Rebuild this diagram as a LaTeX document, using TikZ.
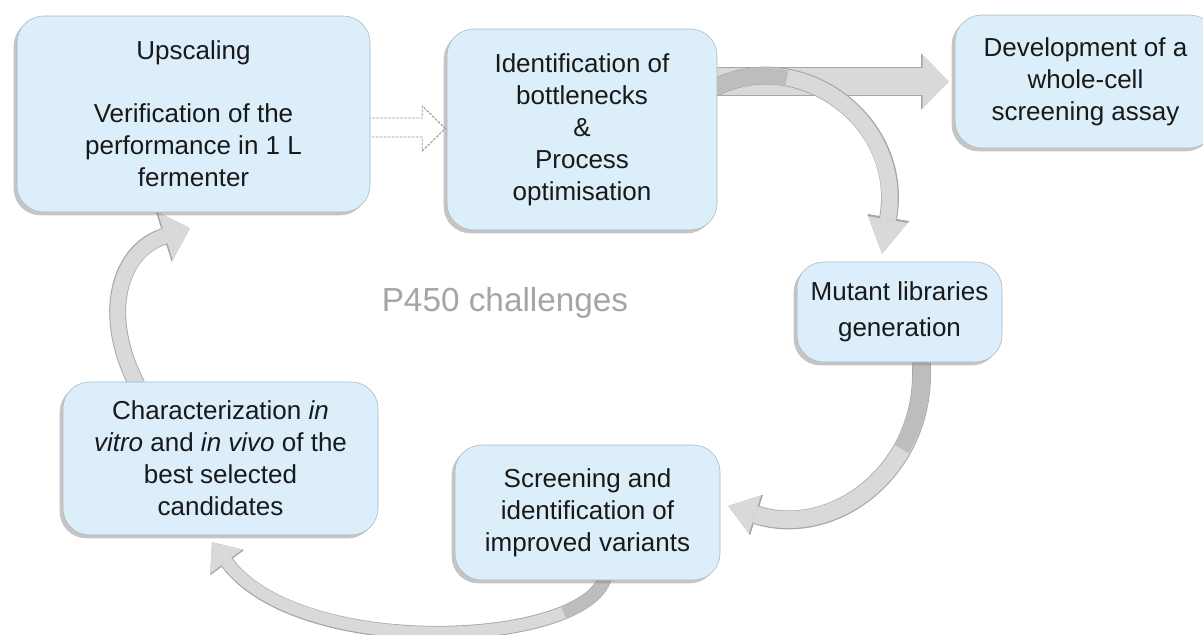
\documentclass[tikz,border=0pt]{standalone}
\usepackage{fontspec}
\setmainfont{Liberation Sans}
\usetikzlibrary{calc, arrows.meta, shadows}

\definecolor{boxfill}{HTML}{DBEEF9}
\definecolor{boxedge}{HTML}{A7B7C4}
\definecolor{arrowfill}{HTML}{D9D9D9}
\definecolor{arrowedge}{HTML}{A6A6A6}
\definecolor{arrowback}{HTML}{BDBDBD}
\definecolor{titlegray}{HTML}{A5A5A5}

\pgfdeclarelayer{background}
\pgfsetlayers{background,main}

\tikzset{
  stage/.style={draw=boxedge, fill=boxfill, rounded corners=20pt, align=center, inner sep=0pt,
    drop shadow={shadow xshift=-2.5pt, shadow yshift=-2.5pt, fill=black!45, opacity=0.5}},
  bigarrow/.style n args={3}{draw=arrowfill, line width=#1,
    -{Triangle[width=#2, length=#3, line width=0pt]},
    preaction={draw=arrowedge, line width=#1+1.4pt,
      -{Triangle[width=#2, length=#3, line width=0pt, scale=1.06]}}},
  % darker underside where the band turns over
  twist/.style 2 args={postaction={draw=arrowback, line width=#1, -, dash pattern=on #2 off 1000pt}},
  hollowarrow/.style={draw=gray!85, dash pattern=on 2pt off 1pt, fill=white, line width=0.7pt}
}

\begin{document}
\begin{tikzpicture}[x=0.75pt, y=0.75pt, font=\fontsize{19.5}{24}\selectfont, text=black!90]
  \useasboundingbox (0,0) rectangle (1203,-635);

  % Steps of the cycle
  \node[stage, minimum width=264.75pt, minimum height=147pt] (up) at (193.5,-114)
    {Upscaling\\[23pt]Verification of the\\performance in 1 L\\fermenter};
  \node[stage, minimum width=202.5pt, minimum height=150.75pt] (bot) at (582,-129.5)
    {Identification of\\bottlenecks\\\&\\Process\\optimisation};
  \node[stage, minimum width=195.75pt, minimum height=99.75pt] (dev) at (1085.5,-81.5)
    {Development of a\\whole-cell\\screening assay};
  \node[stage, minimum width=153.75pt, minimum height=75pt] (mut) at (899.5,-312)
    {Mutant libraries\\[3pt]generation};
  \node[stage, minimum width=198.75pt, minimum height=101.25pt] (scr) at (587.5,-512.5)
    {Screening and\\identification of\\improved variants};
  \node[stage, minimum width=236.25pt, minimum height=114.75pt] (char) at (220.5,-458.5)
    {Characterization \textit{in}\\\textit{vitro} and \textit{in vivo} of the\\best selected\\candidates};

  \node[font=\fontsize{25}{30}\selectfont, text=titlegray] (title) at (505,-303) {P450 challenges};

  \begin{pgfonlayer}{background}
    % Straight arrows
    \draw[hollowarrow] ($(up.east)+(-2,-4)$) -- ++(54,0) -- ++(0,12) -- ++(23,-22.5)
      -- ++(-23,-22.5) -- ++(0,14) -- ++(-54,0) -- cycle;
    \draw[bigarrow={20.25pt}{39.75pt}{19.5pt}] ($(bot.east)+(-3,48)$) -- ($(dev.west)+(-6,0)$);

    % Curved arrows round the loop
    \draw[bigarrow={12pt}{30pt}{26pt}, twist={12pt}{56pt}] ($(bot.east)+(-3,41.5)$)
      .. controls +(84,43) and +(23,134) .. ($(mut.north)+(-17.5,8)$);
    \draw[bigarrow={12.75pt}{30pt}{21pt}, twist={12.75pt}{70pt}] ($(mut.south)+(21.5,3)$)
      .. controls +(9,-108) and +(107,-34) .. ($(scr.east)+(8,6.5)$);
    \draw[bigarrow={9pt}{30pt}{18pt}, twist={9pt}{42pt}] ($(scr.south)+(17.5,3)$)
      .. controls +(-20,-70) and +(88,-118) .. ($(char.south)+(-8.5,-7)$);
    \draw[bigarrow={11.25pt}{37.5pt}{19.5pt}] ($(char.north)+(-83.5,-3)$)
      .. controls +(-37,72) and +(-70,-22) .. ($(up.south)+(-3.5,-16)$);
  \end{pgfonlayer}
\end{tikzpicture}
\end{document}
